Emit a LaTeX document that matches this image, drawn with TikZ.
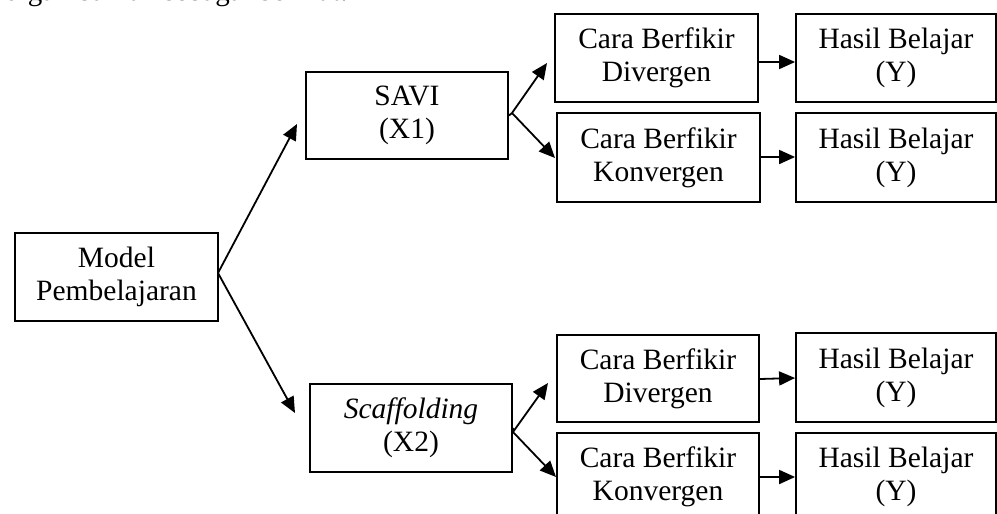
\documentclass[tikz,border=0pt]{standalone}
\usepackage{fontspec}
\setmainfont{Liberation Serif}
\usetikzlibrary{arrows.meta}
\begin{document}
\begin{tikzpicture}[x=1pt,y=-1pt,
  box/.style={draw,line width=1.8pt,inner sep=0pt,align=center,
    font=\fontsize{29.5}{33}\selectfont},
  arr/.style={line width=1.8pt,-{Triangle[length=16pt,width=14pt]}},
  ln/.style={line width=1.8pt}]
\useasboundingbox (0,0) rectangle (997,514);
\clip (0,0) rectangle (997,514);
\node[anchor=base west,inner sep=0pt,font=\fontsize{29}{33}\selectfont] (intro) at (5,1) {digambarkan sebagai berikut:};
% boxes
\node[box,minimum width=203pt,minimum height=88pt] (model) at (116.5,277) {Model\\Pembelajaran};
\node[box,minimum width=202pt,minimum height=87pt] (savi) at (407,115.5) {SAVI\\(X1)};
\node[box,minimum width=202pt,minimum height=88pt] (scaf) at (411,428) {\textit{Scaffolding}\\(X2)};
\node[box,minimum width=203pt,minimum height=88pt] (div1) at (656.5,58) {Cara Berfikir\\Divergen};
\node[box,minimum width=203pt,minimum height=89pt] (kon1) at (658.5,157.5) {Cara Berfikir\\Konvergen};
\node[box,minimum width=200pt,minimum height=88pt] (has1) at (896,58) {Hasil Belajar\\(Y)};
\node[box,minimum width=200pt,minimum height=89pt] (has2) at (896,157.5) {Hasil Belajar\\(Y)};
\node[box,minimum width=202pt,minimum height=87pt] (div2) at (658,378.5) {Cara Berfikir\\Divergen};
\node[box,minimum width=202pt,minimum height=88pt] (kon2) at (658,477) {Cara Berfikir\\Konvergen};
\node[box,minimum width=200pt,minimum height=89pt] (has3) at (896,377.5) {Hasil Belajar\\(Y)};
\node[box,minimum width=200pt,minimum height=88pt] (has4) at (896,477) {Hasil Belajar\\(Y)};
% junction points and arrow tips
\coordinate (mA) at (218,273);
\coordinate (t1) at (297,124);
\coordinate (t2) at (295,413);
\coordinate (sA) at (512,113);
\coordinate (s1) at (547,63);
\coordinate (s2) at (555,158);
\coordinate (cA) at (513,432);
\coordinate (c1) at (548,383);
\coordinate (c2) at (556,477);
% connectors
\draw[ln] (model.east) -- (mA);
\draw[arr] (mA) -- (t1);
\draw[arr] (mA) -- (t2);
\draw[ln] (savi.east) -- (sA);
\draw[arr] (sA) -- (s1);
\draw[arr] (sA) -- (s2);
\draw[ln] (scaf.east) -- (cA);
\draw[arr] (cA) -- (c1);
\draw[arr] (cA) -- (c2);
\draw[arr] ([yshift=-4pt]div1.east) -- ([yshift=-4pt]has1.west);
\draw[arr] ([yshift=0.5pt]kon1.east) -- ([yshift=0.5pt]has2.west);
\draw[arr] ([yshift=-0.5pt]div2.east) -- ([yshift=-0.5pt]has3.west);
\draw[arr] (kon2.east) -- (has4.west);
\end{tikzpicture}
\end{document}
